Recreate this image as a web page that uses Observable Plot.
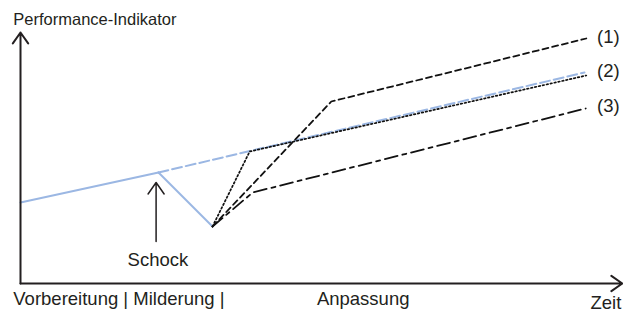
<!DOCTYPE html>
<html>
<head>
<meta charset="utf-8">
<script src="https://cdn.jsdelivr.net/npm/d3@7"></script>
<script src="https://cdn.jsdelivr.net/npm/@observablehq/plot@0.6"></script>
<style>
  html, body { margin: 0; padding: 0; background: #fff; }
  svg { display: block; }
</style>
</head>
<body>
<div id="chart"></div>
<script>
// Time (t) and performance (p) in abstract units
const preShockT = [0, 23];
const preShockP = [32.4, 44.4];
const dropT = [23, 32];
const dropP = [44.4, 22.8];
const trendT = [23, 94];
const trendP = [44.4, 84.4];
const path1T = [32, 51.8, 94.3];
const path1P = [22.8, 72.8, 98];
const path2T = [32, 38.2, 94.3];
const path2P = [22.8, 52.8, 83.2];
const path3T = [32, 38.7, 94.2];
const path3P = [22.8, 36.4, 70];

const seriesLabels = ["(1)", "(2)", "(3)"];
const seriesLabelT = [96.1, 96.1, 96.1];
const seriesLabelP = [98.4, 84.9, 70.8];

const yAxisLabel = ["Performance-Indikator"];
const yAxisLabelT = [-1.2];
const yAxisLabelP = [105.7];

const axisLabels = ["Vorbereitung | Milderung |", "Anpassung", "Zeit"];
const axisLabelT = [-1.2, 49.4, 95];
const axisLabelP = [-6.4, -6.4, -7.9];

const shockLabel = ["Schock"];
const shockLabelT = [22.9];
const shockLabelP = [9.2];

const axesArrows = [
  {x1: 0, y1: 0, x2: 0, y2: 100.4},
  {x1: 0, y1: 0, x2: 100.3, y2: 0}
];
const shockArrow = [{x1: 22.6, y1: 16.8, x2: 22.6, y2: 40.4}];

const pts = (T, P) => T.map((t, i) => ({t, p: P[i]}));
const blue = "#9bb7e3";
const ink = "#231f20";
const fs = 18.5;

const chart = Plot.plot({
  width: 623,
  height: 315,
  margin: 0,
  x: {domain: [-20 / 6, 603 / 6], range: [0, 623], axis: null},
  y: {domain: [-12.8, 113.2], range: [315, 0], axis: null},
  style: {fontFamily: "'Liberation Sans', Arial, sans-serif", background: "#fff"},
  marks: [
    Plot.line(pts(trendT, trendP), {x: "t", y: "p", stroke: blue, strokeWidth: 2, strokeDasharray: "10,4"}),
    Plot.line(pts(preShockT, preShockP), {x: "t", y: "p", stroke: blue, strokeWidth: 2}),
    Plot.line(pts(dropT, dropP), {x: "t", y: "p", stroke: blue, strokeWidth: 2}),
    Plot.line(pts(path1T, path1P), {x: "t", y: "p", stroke: "#111", strokeWidth: 1.8, strokeDasharray: "6,4"}),
    Plot.line(pts(path2T, path2P), {x: "t", y: "p", stroke: "#111", strokeWidth: 1.7, strokeDasharray: "1.6,2.4"}),
    Plot.line(pts(path3T, path3P), {x: "t", y: "p", stroke: "#111", strokeWidth: 1.8, strokeDasharray: "13,5,4,5"}),
    Plot.arrow(axesArrows, {x1: "x1", y1: "y1", x2: "x2", y2: "y2", stroke: ink, strokeWidth: 2, headLength: 10, headAngle: 70}),
    Plot.arrow(shockArrow, {x1: "x1", y1: "y1", x2: "x2", y2: "y2", stroke: ink, strokeWidth: 1.5, headLength: 14, headAngle: 70}),
    Plot.text(seriesLabels, {x: (d, i) => seriesLabelT[i], y: (d, i) => seriesLabelP[i], text: d => d, textAnchor: "start", fontSize: fs, fill: ink}),
    Plot.text(yAxisLabel, {x: (d, i) => yAxisLabelT[i], y: (d, i) => yAxisLabelP[i], text: d => d, textAnchor: "start", fontSize: 16.5, fill: ink}),
    Plot.text(axisLabels, {x: (d, i) => axisLabelT[i], y: (d, i) => axisLabelP[i], text: d => d, textAnchor: "start", fontSize: fs, fill: ink}),
    Plot.text(shockLabel, {x: (d, i) => shockLabelT[i], y: (d, i) => shockLabelP[i], text: d => d, textAnchor: "middle", fontSize: fs, fill: ink})
  ]
});
document.getElementById("chart").appendChild(chart);
</script>
</body>
</html>
